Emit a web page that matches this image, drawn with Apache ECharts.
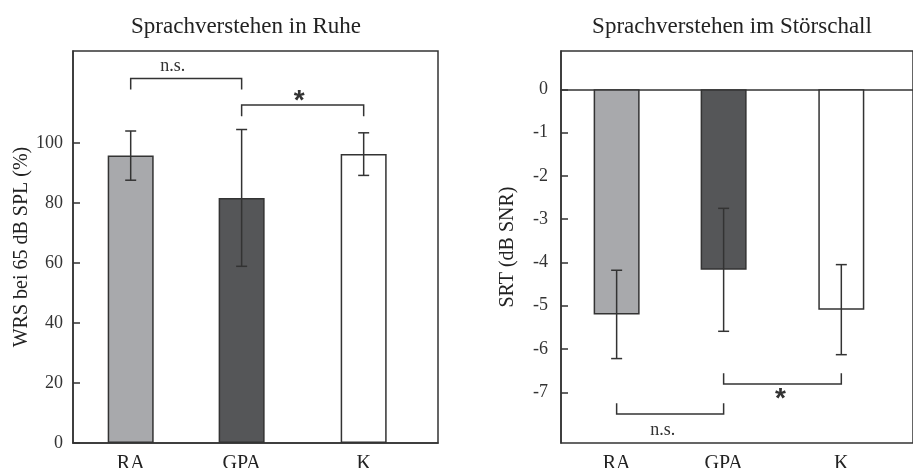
<!DOCTYPE html>
<html><head><meta charset="utf-8">
<script src="https://cdn.jsdelivr.net/npm/echarts@6/dist/echarts.min.js"></script>
<style>html,body{margin:0;padding:0;background:#fff}#c{width:913px;height:468px}</style>
</head><body><div id="c"></div>
<script>
// ---- data ----
const categories = ['RA', 'GPA', 'K'];
const catPositions = [1, 2, 3.1];
const barColors = ['#a8a9ac', '#555658', '#ffffff'];
const quietMean = [95.8, 81.7, 96.3];
const quietSD = [8.2, 22.8, 7.1];
const noiseMean = [-5.2, -4.17, -5.09];
const noiseSD = [1.02, 1.42, 1.04];
const quietTicks = [0, 20, 40, 60, 80, 100];
const noiseTicks = [-7, -6, -5, -4, -3, -2, -1, 0];
// brackets: [fromIndex, toIndex, barLevel, endLevel]
const quietBrackets = [[0, 1, 121.5, 117.8], [1, 2, 112.7, 108.9]];
const noiseBrackets = [[0, 1, -7.5, -7.25], [1, 2, -6.81, -6.56]];
// significance labels
const quietSigText = ['n.s.', '*'];
const quietSigPos = [[1.38, 125.6], [2.52, 113.8]];
const noiseSigText = ['n.s.', '*'];
const noiseSigPos = [[1.43, -7.87], [2.53, -7.15]];
const titles = ['Sprachverstehen in Ruhe', 'Sprachverstehen im Störschall'];
const yNames = ['WRS bei 65 dB SPL (%)', 'SRT (dB SNR)'];

// ---- chart ----
const ink = '#333';
const serif = '"Liberation Serif", "DejaVu Serif", serif';
const chart = echarts.init(document.getElementById('c'));

function barData(means) {
  return means.map((v, i) => ({ value: [catPositions[i], v], itemStyle: { color: barColors[i] } }));
}
function errData(means, sds) {
  return means.map((v, i) => [catPositions[i], v, sds[i]]);
}
function errRender(params, api) {
  const x = api.value(0), m = api.value(1), s = api.value(2);
  const top = api.coord([x, m + s]);
  const bot = api.coord([x, m - s]);
  const c = 5.5;
  return {
    type: 'group', children: [
      { type: 'line', shape: { x1: top[0], y1: top[1], x2: bot[0], y2: bot[1] }, style: { stroke: ink, lineWidth: 1.5 } },
      { type: 'line', shape: { x1: top[0] - c, y1: top[1], x2: top[0] + c, y2: top[1] }, style: { stroke: ink, lineWidth: 1.5 } },
      { type: 'line', shape: { x1: bot[0] - c, y1: bot[1], x2: bot[0] + c, y2: bot[1] }, style: { stroke: ink, lineWidth: 1.5 } }
    ]
  };
}
function bracketData(br) {
  return br.map(b => [catPositions[b[0]], catPositions[b[1]], b[2], b[3]]);
}
function bracketRender(params, api) {
  const a = api.coord([api.value(0), api.value(3)]);
  const b = api.coord([api.value(0), api.value(2)]);
  const c = api.coord([api.value(1), api.value(2)]);
  const d = api.coord([api.value(1), api.value(3)]);
  return { type: 'polyline', shape: { points: [a, b, c, d] }, style: { stroke: ink, lineWidth: 1.5, fill: null } };
}
function makeSigRender(texts) {
  return function (params, api) {
    const p = api.coord([api.value(0), api.value(1)]);
    const t = texts[params.dataIndex];
    const star = t === '*';
    return {
      type: 'text', x: p[0], y: p[1],
      style: {
        text: t, fill: ink, align: 'center', verticalAlign: 'middle',
        font: star ? 'bold 28px "Liberation Sans", sans-serif' : '18px ' + serif
      }
    };
  };
}
function catLabelRender(params, api) {
  const p = api.coord([api.value(0), api.value(1)]);
  return {
    type: 'text', x: p[0], y: p[1] + 21,
    style: { text: categories[params.dataIndex], fill: '#222', align: 'center', verticalAlign: 'middle', font: '20px ' + serif }
  };
}

const grids = [
  { left: 73, top: 51, width: 365, height: 392, show: true, borderColor: ink, borderWidth: 1.5, backgroundColor: 'transparent' },
  { left: 561, top: 51, width: 365, height: 392, show: true, borderColor: ink, borderWidth: 1.5, backgroundColor: 'transparent' }
];
const yRanges = [[0, 130.67], [-8.17, 0.884]];
const ticks = [quietTicks, noiseTicks];

const option = {
  animation: false,
  backgroundColor: '#fff',
  title: titles.map((t, i) => ({
    text: t, left: i === 0 ? 241 : 727, top: 10, textAlign: 'center',
    textStyle: { fontFamily: serif, fontWeight: 'normal', fontSize: 23, color: '#222' }
  })),
  grid: grids,
  xAxis: [0, 1].map(i => ({
    type: 'value', gridIndex: i, min: 0.48, max: 3.77,
    axisLine: { show: true, onZero: true, lineStyle: { color: ink, width: 1.5 } },
    axisTick: { show: false }, axisLabel: { show: false }, splitLine: { show: false }
  })),
  yAxis: [0, 1].map(i => ({
    type: 'value', gridIndex: i, min: yRanges[i][0], max: yRanges[i][1],
    name: yNames[i], nameLocation: 'middle', nameGap: i === 0 ? 39 : 43,
    nameTextStyle: { fontFamily: serif, fontSize: 20, color: '#222' },
    axisLine: { show: true, lineStyle: { color: ink, width: 1.5 } },
    axisTick: { show: true, inside: true, length: 7, customValues: ticks[i], lineStyle: { color: ink, width: 1.5 } },
    axisLabel: { customValues: ticks[i], margin: i === 0 ? 10 : 13, fontFamily: serif, fontSize: 18, color: '#333' },
    splitLine: { show: false }
  })),
  series: [
    { type: 'bar', xAxisIndex: 0, yAxisIndex: 0, barWidth: 46, data: barData(quietMean), itemStyle: { borderColor: ink, borderWidth: 1.5 }, z: 2 },
    { type: 'bar', xAxisIndex: 1, yAxisIndex: 1, barWidth: 46, data: barData(noiseMean), itemStyle: { borderColor: ink, borderWidth: 1.5 }, z: 2 },
    { type: 'custom', xAxisIndex: 0, yAxisIndex: 0, renderItem: errRender, data: errData(quietMean, quietSD), z: 5 },
    { type: 'custom', xAxisIndex: 1, yAxisIndex: 1, renderItem: errRender, data: errData(noiseMean, noiseSD), z: 5 },
    { type: 'custom', xAxisIndex: 0, yAxisIndex: 0, renderItem: bracketRender, data: bracketData(quietBrackets), z: 5 },
    { type: 'custom', xAxisIndex: 1, yAxisIndex: 1, renderItem: bracketRender, data: bracketData(noiseBrackets), z: 5 },
    { type: 'custom', xAxisIndex: 0, yAxisIndex: 0, renderItem: makeSigRender(quietSigText), data: quietSigPos, z: 5, clip: false },
    { type: 'custom', xAxisIndex: 1, yAxisIndex: 1, renderItem: makeSigRender(noiseSigText), data: noiseSigPos, z: 5, clip: false },
    { type: 'custom', xAxisIndex: 0, yAxisIndex: 0, renderItem: catLabelRender, data: catPositions.map(p => [p, yRanges[0][0]]), z: 5, clip: false },
    { type: 'custom', xAxisIndex: 1, yAxisIndex: 1, renderItem: catLabelRender, data: catPositions.map(p => [p, yRanges[1][0]]), z: 5, clip: false }
  ]
};
chart.setOption(option);
</script>
</body></html>
